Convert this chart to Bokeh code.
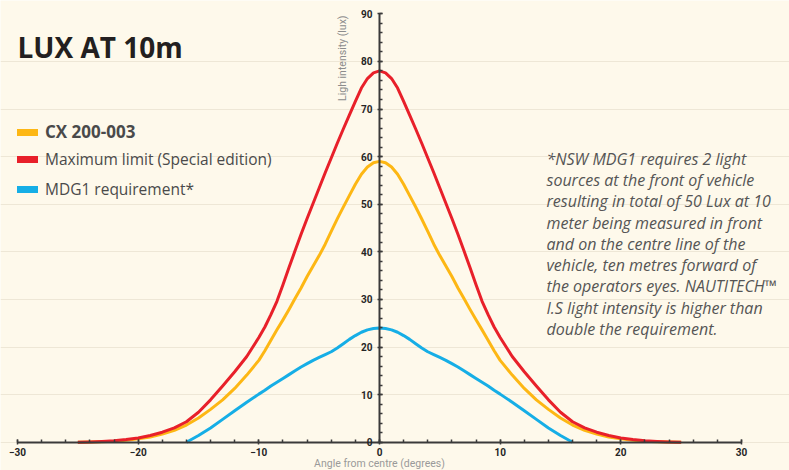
import math
from bokeh.plotting import figure
from bokeh.models import (LinearAxis, SingleIntervalTicker, Label, Legend, LegendItem,
                          Range1d, Grid)
from bokeh.embed import file_html
from bokeh.resources import INLINE

# ---------------- data ----------------
angles = [-25, -24, -23, -22, -21, -20, -19, -18, -17, -16, -15, -14, -13, -12, -11,
          -10, -9.5, -9, -8.5, -8, -7.5, -7, -6.5, -6, -5.5, -5, -4.5, -4, -3.5, -3,
          -2.5, -2, -1.5, -1, -0.5, 0, 0.5, 1, 1.5, 2, 2.5, 3, 3.5, 4, 4.5, 5, 5.5, 6,
          6.5, 7, 7.5, 8, 8.5, 9, 9.5, 10,
          11, 12, 13, 14, 15, 16, 17, 18, 19, 20, 21, 22, 23, 24, 25]

cx_200_003 = [0, 0.04, 0.1, 0.2, 0.4, 0.7, 1.1, 1.7, 2.5, 3.6, 5.1, 6.9, 8.9, 11.3, 14.1,
              17.2, 19.2, 21.4, 23.6, 25.7, 27.9, 30.2, 32.4, 34.8, 37.0, 39.2, 41.6, 44.3,
              46.9, 49.4, 51.8, 54.2, 56.3, 57.8, 58.7, 59,
              58.7, 57.8, 56.3, 54.2, 51.8, 49.4, 46.9, 44.3, 41.6, 39.2, 37.0, 34.8, 32.4,
              30.2, 27.9, 25.7, 23.6, 21.4, 19.2, 17.2,
              14.1, 11.3, 8.9, 6.9, 5.1, 3.6, 2.5, 1.7, 1.1, 0.7, 0.4, 0.2, 0.1, 0.04, 0]

max_limit = [0, 0.05, 0.15, 0.3, 0.55, 0.9, 1.4, 2.1, 3.0, 4.3, 6.3, 8.9, 11.8, 14.8, 18.0,
             22.0, 24.2, 26.8, 29.6, 33.1, 36.7, 40.2, 43.7, 47.0, 50.2, 53.4, 56.6, 59.7,
             62.8, 65.8, 68.7, 71.6, 74.4, 76.4, 77.6, 78,
             77.6, 76.4, 74.4, 71.6, 68.7, 65.8, 62.8, 59.7, 56.6, 53.4, 50.2, 47.0, 43.7,
             40.2, 36.7, 33.1, 29.6, 26.8, 24.2, 22.0,
             18.0, 14.8, 11.8, 8.9, 6.3, 4.3, 3.0, 2.1, 1.4, 0.9, 0.55, 0.3, 0.15, 0.05, 0]

mdg1_angles = [-16, -15, -14, -13, -12, -11,
               -10, -9.5, -9, -8.5, -8, -7.5, -7, -6.5, -6, -5.5, -5, -4.5, -4, -3.5, -3,
               -2.5, -2, -1.5, -1, -0.5, 0, 0.5, 1, 1.5, 2, 2.5, 3, 3.5, 4, 4.5, 5, 5.5, 6,
               6.5, 7, 7.5, 8, 8.5, 9, 9.5, 10,
               11, 12, 13, 14, 15, 16]
mdg1_req = [0, 1.4, 3.0, 4.8, 6.6, 8.4,
            10.1, 10.9, 11.8, 12.6, 13.4, 14.2, 15.0, 15.8, 16.5, 17.2, 17.8, 18.4, 19.0,
            19.8, 20.7, 21.6, 22.4, 23.1, 23.6, 23.9, 24,
            23.9, 23.6, 23.1, 22.4, 21.6, 20.7, 19.8, 19.0, 18.4, 17.8, 17.2, 16.5, 15.8,
            15.0, 14.2, 13.4, 12.6, 11.8, 10.9, 10.1,
            8.4, 6.6, 4.8, 3.0, 1.4, 0]

series_names = ["CX 200-003", "Maximum limit (Special edition)", "MDG1 requirement*"]
title_text = "LUX AT 10m"
x_label = "Angle from centre (degrees)"
y_label = "Ligh intensity (lux)"
note_lines = ["*NSW MDG1 requires 2 light",
              "sources at the front of vehicle",
              "resulting in total of 50 Lux at 10",
              "meter being measured in front",
              "and on the centre line of the",
              "vehicle, ten metres forward of",
              "the operators eyes. NAUTITECH\u2122",
              "I.S light intensity is higher than",
              "double the requirement."]

# ---------------- styling ----------------
BG = "#fef9eb"
YELLOW = "#fdb714"
RED = "#e8202a"
BLUE = "#16aee6"
AXIS = "#3a3a3a"
TEXT = "#4a4a4a"
SANS = "Open Sans"

W, H = 789, 470
PX_X = 12.0667   # pixels per degree
PX_Y = 4.76      # pixels per lux


def ypix(py):
    """page pixel row -> data y (annotation placement only)"""
    return (441.7 - py) / PX_Y


p = figure(width=W, height=H, output_backend="svg", toolbar_location=None,
           x_range=Range1d(-30 - 17 / PX_X, 30 + (W - 741) / PX_X),
           y_range=Range1d(-(H - 441.7) / PX_Y, 90 + 13.3 / PX_Y),
           x_axis_type=None, y_axis_type=None, min_border=0,
           background_fill_color=BG, border_fill_color=BG, outline_line_color=None)

grid = Grid(dimension=1, ticker=SingleIntervalTicker(interval=10), bounds=(0, 80),
            grid_line_color="#eee7d6", grid_line_width=1)
p.add_layout(grid)

axis_style = dict(axis_line_color=AXIS, axis_line_width=2,
                  major_tick_line_color=AXIS, major_tick_line_width=1.5,
                  major_tick_in=3, major_tick_out=2,
                  minor_tick_line_color=AXIS, minor_tick_line_width=1.5,
                  minor_tick_in=3, minor_tick_out=0,
                  major_label_text_font="Roboto", major_label_text_font_style="bold",
                  major_label_text_font_size="10px", major_label_text_color="#262626")

xaxis = LinearAxis(fixed_location=0, bounds=(-30, 30),
                   ticker=SingleIntervalTicker(interval=10, num_minor_ticks=5),
                   major_label_standoff=4, **axis_style)
p.add_layout(xaxis, "below")

yaxis = LinearAxis(fixed_location=0, bounds=(0, 90),
                   ticker=SingleIntervalTicker(interval=10, num_minor_ticks=5),
                   major_label_standoff=5, **axis_style)
p.add_layout(yaxis, "left")

# curves
p.line(angles, cx_200_003, line_color=YELLOW, line_width=3, line_join="round")
p.line(mdg1_angles, mdg1_req, line_color=BLUE, line_width=3, line_join="round")
p.line(angles, max_limit, line_color=RED, line_width=3, line_join="round")

# legend keys (thick keys, hidden renderers)
ly = p.line(angles, cx_200_003, line_color=YELLOW, line_width=7, line_cap="round", visible=False)
lr = p.line(angles, max_limit, line_color=RED, line_width=7, line_cap="round", visible=False)
lb = p.line(mdg1_angles, mdg1_req, line_color=BLUE, line_width=7, line_cap="round", visible=False)

common = dict(glyph_width=21, glyph_height=20, label_height=20, spacing=8, padding=0,
              margin=0, border_line_color=None, background_fill_alpha=0,
              label_standoff=7, label_text_font=SANS, label_text_color=TEXT,
              inactive_fill_alpha=0, label_text_baseline="middle")
leg1 = Legend(items=[LegendItem(label=series_names[0], renderers=[ly])],
              location=(17, H - 143), label_text_font_size="17px",
              label_text_font_style="bold", **common)
leg2 = Legend(items=[LegendItem(label=series_names[1], renderers=[lr]),
                     LegendItem(label=series_names[2], renderers=[lb])],
              location=(17, H - 200), label_text_font_size="15.5px", **common)
p.add_layout(leg1)
p.add_layout(leg2)

# title
p.add_layout(Label(x=-30, y=ypix(46), text=title_text, text_font=SANS, text_font_style="bold",
                   text_font_size="28px", text_color="#231f20", text_baseline="alphabetic"))

# axis titles
p.add_layout(Label(x=(341 - 378) / PX_X, y=ypix(15), text=y_label, angle=math.pi / 2,
                   text_align="right", text_baseline="middle", text_font="Roboto",
                   text_font_size="10.5px", text_color="#8c8c8c"))
p.add_layout(Label(x=0, y=ypix(463), text=x_label, text_align="center", text_baseline="middle",
                   text_font="Roboto", text_font_size="10.5px", text_color="#9a9a9a"))

# note text
for i, line in enumerate(note_lines):
    p.add_layout(Label(x=(545 - 378) / PX_X, y=ypix(158.3 + i * 21.25), text=line,
                       text_font=SANS, text_font_style="italic", text_font_size="16px",
                       text_color="#555555", text_baseline="middle"))

open("out.html", "w").write(file_html(p, INLINE))
